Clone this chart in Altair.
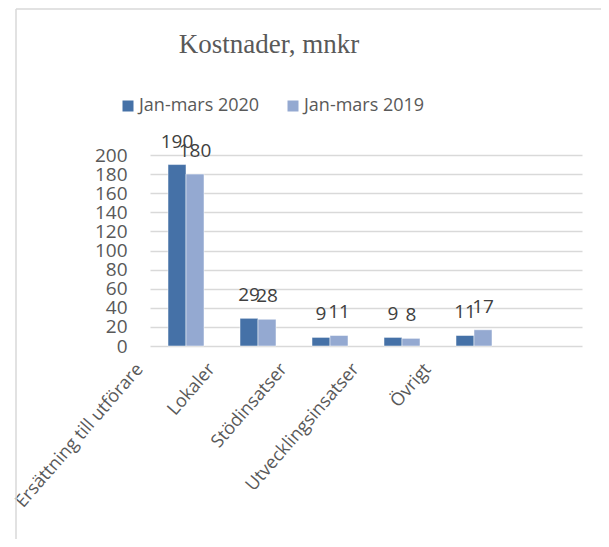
import altair as alt
import pandas as pd

categories = ["Ersättning till utförare", "Lokaler", "Stödinsatser", "Utvecklingsinsatser", "Övrigt"]
series = ["Jan-mars 2020", "Jan-mars 2019"]
values_2020 = [190, 29, 9, 9, 11]
values_2019 = [180, 28, 11, 8, 17]
y_ticks = [0, 20, 40, 60, 80, 100, 120, 140, 160, 180, 200]
colors = ["#4571a7", "#94a9d1"]

rows = []
for c, a, b in zip(categories, values_2020, values_2019):
    rows.append({"Kategori": c, "Serie": series[0], "Värde": a})
    rows.append({"Kategori": c, "Serie": series[1], "Värde": b})
df = pd.DataFrame(rows)

FONT = "Open Sans"
GRAY = "#595959"

x_enc = alt.X(
    "Kategori:N",
    scale=alt.Scale(domain=categories + [""], paddingInner=0.5, paddingOuter=0.25),
    axis=alt.Axis(
        title=None, labelAngle=-49, labelAlign="right", labelBaseline="middle",
        labelPadding=20, labelOffset=-46, ticks=False, domain=False, grid=False,
        labelFont=FONT, labelFontSize=18, labelColor=GRAY, labelLimit=400,
    ),
)
y_enc = alt.Y(
    "Värde:Q",
    scale=alt.Scale(domain=[0, 200], nice=False),
    axis=alt.Axis(
        title=None, values=y_ticks, ticks=False, tickSize=0, domain=False,
        gridColor="#d9d9d9", gridWidth=1.5, labelPadding=23,
        labelFont=FONT, labelFontSize=19, labelColor=GRAY,
    ),
)
xo = alt.XOffset("Serie:N", scale=alt.Scale(domain=series))

bars = alt.Chart(df).mark_bar(stroke="white", strokeWidth=0.5).encode(
    x=x_enc, y=y_enc, xOffset=xo,
    color=alt.Color(
        "Serie:N",
        scale=alt.Scale(domain=series, range=colors),
        legend=alt.Legend(
            title=None, orient="none", legendX=-31, legendY=-58, direction="horizontal",
            symbolType="square", symbolSize=121, symbolStrokeWidth=0,
            labelFont=FONT, labelFontSize=18, labelColor=GRAY, labelOffset=2,
            columnPadding=24, padding=0,
        ),
    ),
)

labels = alt.Chart(df).mark_text(
    font=FONT, fontSize=19, color="#404040", baseline="alphabetic", dy=-17
).encode(x=x_enc, y=y_enc, xOffset=xo, text=alt.Text("Värde:Q"))

frame_df = pd.DataFrame({"a": [0]})
left_rule = alt.Chart(frame_df).mark_rule(color="#d9d9d9", strokeWidth=1.5).encode(
    x=alt.value(-134), y=alt.value(-146), y2=alt.value(400)
)
top_rule = alt.Chart(frame_df).mark_rule(color="#d9d9d9", strokeWidth=1.5).encode(
    x=alt.value(-134), x2=alt.value(470), y=alt.value(-146)
)

chart = alt.layer(left_rule, top_rule, bars, labels).properties(
    width=432,
    height=191,
    title=alt.Title(
        "Kostnader, mnkr", font="Liberation Serif", fontSize=27, fontWeight="normal",
        color=GRAY, anchor="middle", dx=-97, dy=55,
    ),
    autosize=alt.AutoSizeParams(type="none"),
    padding={"left": 142, "top": 147, "right": 19, "bottom": 193},
).configure_view(stroke=None)

chart.save("out.html", embed_options={"renderer": "svg", "actions": False})
